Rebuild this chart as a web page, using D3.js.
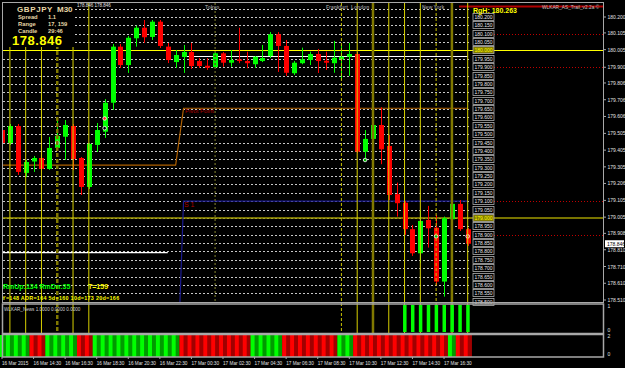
<!DOCTYPE html>
<html>
<head>
<meta charset="utf-8">
<script src="https://d3js.org/d3.v7.min.js"></script>
<style>
  body { margin: 0; background: #000; }
  svg { display: block; font-family: "Liberation Sans", Arial, sans-serif; }
</style>
</head>
<body>
<svg width="625" height="368"></svg>
<script>
// GBPJPY M30 candles, 16 Mar 12:30 -> 17 Mar 18:00
const opens = [179.525,179.448,179.549,179.269,179.337,179.358,179.293,179.418,179.485,179.549,
  179.358,179.185,179.436,179.515,179.688,180.023,179.913,180.073,180.136,180.081,
  180.172,180.023,179.931,179.961,179.991,179.937,179.909,179.900,179.983,179.927,
  179.947,179.937,179.918,179.937,179.967,180.097,180.027,179.864,179.924,179.943,
  179.979,179.939,179.924,179.947,179.963,179.979,179.396,179.472,179.555,179.430,
  179.142,179.091,178.933,178.789,178.988,178.942,178.620,178.992,179.084,178.933];
const highs = [179.543,179.561,179.561,179.346,179.370,179.478,179.484,179.603,179.585,179.561,
  179.364,179.448,179.567,179.710,180.039,180.039,180.087,180.148,180.182,180.182,
  180.182,180.045,180.003,180.033,180.045,179.955,179.955,179.991,179.991,180.003,
  180.136,179.993,179.967,180.033,180.110,180.110,180.063,179.937,180.017,179.993,
  180.009,179.993,180.057,180.033,180.045,179.991,179.525,179.575,179.661,179.496,
  179.211,179.101,178.958,179.048,179.072,179.018,179.008,179.247,179.107,178.940];
const lows = [179.424,179.436,179.257,179.245,179.275,179.275,179.287,179.406,179.346,179.287,
  179.137,179.173,179.394,179.478,179.645,179.896,179.866,180.023,180.045,180.063,
  180.015,179.925,179.896,179.866,179.890,179.896,179.884,179.896,179.903,179.903,
  179.924,179.894,179.896,179.931,179.955,179.872,179.848,179.854,179.918,179.913,
  179.866,179.884,179.867,179.824,179.848,179.388,179.358,179.376,179.321,179.107,
  179.008,178.899,178.773,178.730,178.823,178.600,178.530,178.968,178.922,178.833];
const closes = [179.448,179.549,179.275,179.334,179.358,179.293,179.418,179.490,179.555,179.352,
  179.185,179.442,179.525,179.688,180.023,179.913,180.076,180.136,180.079,180.172,
  180.027,179.943,179.973,179.991,179.907,179.907,179.897,179.983,179.927,179.943,
  179.937,179.924,179.963,179.955,180.097,180.027,179.867,179.927,179.947,179.979,
  179.937,179.927,179.957,179.963,179.979,179.396,179.472,179.555,179.410,179.137,
  179.088,178.933,178.789,178.982,178.938,178.620,178.998,179.084,178.933,178.846];

// daily pivot / S1 (step at 17 Mar 00:00)
const pivotSeries = [179.316,179.316,179.316,179.316,179.316,179.316,179.316,179.316,179.316,179.316,
  179.316,179.316,179.316,179.316,179.316,179.316,179.316,179.316,179.316,179.316,
  179.316,179.316,179.316,179.655,179.655,179.655,179.655,179.655,179.655,179.655,
  179.655,179.655,179.655,179.655,179.655,179.655,179.655,179.655,179.655,179.655,
  179.655,179.655,179.655,179.655,179.655,179.655,179.655,179.655,179.655,179.655,
  179.655,179.655,179.655,179.655,179.655,179.655,179.655,179.655,179.655,179.655];
const s1Series = [177.780,177.780,177.780,177.780,177.780,177.780,177.780,177.780,177.780,177.780,
  177.780,177.780,177.780,177.780,177.780,177.780,177.780,177.780,177.780,177.780,
  177.780,177.780,177.780,179.101,179.101,179.101,179.101,179.101,179.101,179.101,
  179.101,179.101,179.101,179.101,179.101,179.101,179.101,179.101,179.101,179.101,
  179.101,179.101,179.101,179.101,179.101,179.101,179.101,179.101,179.101,179.101,
  179.101,179.101,179.101,179.101,179.101,179.101,179.101,179.101,179.101,179.101];

// white range lines: [first bar, last bar, price]
const whiteLines = [[0, 21, 178.793], [23, 59, 179.964]];
const rangeHigh = 180.263;
const lastPrice = 178.846;

// sub window 1 (news) and sub window 2 (trend colour)
const newsSignal = [0,0,0,0,0,0,0,0,0,0, 0,0,0,0,0,0,0,0,0,0, 0,0,0,0,0,0,0,0,0,0,
  0,0,0,0,0,0,0,0,0,0, 0,0,0,0,0,0,0,0,0,0, 0,1,1,1,1,1,1,1,1,1];
const trendUp = [1,1,1,1,0,0,1,1,1,1, 0,0,1,1,1,1,1,1,1,1, 1,1,1,0,0,0,0,0,0,0,
  0,0,1,1,1,1,0,0,0,0, 0,0,0,1,1,0,0,0,0,0, 0,0,0,0,0,0,0,1,0,0];

// session lines (bar index)
const solidLineBars = [1, 3, 5, 9, 11, 45, 49, 51, 53, 59];
const oliveLineBars = [7, 47, 57];
const dashedLineBars = [43, 55];
const dottedLineBars = [27];

// price levels every 0.05 with boxed labels
const levelPrices = [180.25,180.20,180.15,180.10,180.05,180.00,179.95,179.90,179.85,179.80,179.75,179.70,
  179.65,179.60,179.55,179.50,179.45,179.40,179.35,179.30,179.25,179.20,179.15,179.10,179.05,179.00,
  178.95,178.90,178.85,178.80,178.75,178.70,178.65,178.60,178.55,178.50];
const boxedLevels = levelPrices.slice(1);
const redDottedLevels = [180.10, 179.90, 179.10, 178.90];

const priceTicks = [180.200,180.105,180.005,179.900,179.806,179.706,179.606,179.505,179.405,
  179.305,179.206,179.105,179.005,178.908,178.810,178.710,178.610,178.510];
const timeTickBars = [0,4,8,12,16,20,24,28,32,36,40,44,48,52,56];
const timeLabels = ["16 Mar 2015","16 Mar 14:30","16 Mar 16:30","16 Mar 18:30","16 Mar 20:30",
  "16 Mar 22:30","17 Mar 00:30","17 Mar 02:30","17 Mar 04:30","17 Mar 06:30","17 Mar 08:30",
  "17 Mar 10:30","17 Mar 12:30","17 Mar 14:30","17 Mar 16:30"];

// signal markers [bar, price, colour]
const markers = [[7,179.448,"#3050ff"],[13,179.536,"#000"],[13,179.594,"#ff3030"],
  [46,179.346,"#00c000"],[55,178.890,"#00c000"],[59,178.890,"#ff2020"]];

const svg = d3.select("svg");
const x = d3.scaleLinear().domain([0, 59]).range([2, 467.7]);
const y = d3.scaleLinear().domain([180.200, 178.510]).range([17, 300]);
const ySub1 = d3.scaleLinear().domain([0, 1]).range([332, 305]);
const ySub2 = d3.scaleLinear().domain([0, 2]).range([357, 335]);
const slot = x(1) - x(0);
const bull = "#00ff00", bear = "#ff0000";

svg.append("rect").attr("width", 625).attr("height", 368).attr("fill", "#000");

svg.append("clipPath").attr("id", "clipMain")
  .append("rect").attr("x", 3).attr("y", 3).attr("width", 600).attr("height", 299);
const g = svg.append("g").attr("clip-path", "url(#clipMain)");

// dotted level lines
g.selectAll(".lvl").data(levelPrices).enter().append("line")
  .attr("x1", 3).attr("x2", 470)
  .attr("y1", d => Math.round(y(d)) + 0.5).attr("y2", d => Math.round(y(d)) + 0.5)
  .attr("stroke", "#c8c8c8").attr("stroke-dasharray", "2,2");

g.selectAll(".rdl").data(redDottedLevels).enter().append("line")
  .attr("x1", 494).attr("x2", 603)
  .attr("y1", d => Math.round(y(d)) + 0.5).attr("y2", d => Math.round(y(d)) + 0.5)
  .attr("stroke", "#c00000").attr("stroke-dasharray", "1,2");

// round number lines
g.append("line").attr("x1", 3).attr("x2", 603).attr("y1", y(180.0)).attr("y2", y(180.0))
  .attr("stroke", "#ffff00").attr("stroke-width", 1.2);
g.append("line").attr("x1", 3).attr("x2", 603).attr("y1", y(179.0)).attr("y2", y(179.0))
  .attr("stroke", "#a09a00").attr("stroke-width", 1.5);

// range high
g.append("line").attr("x1", 459).attr("x2", 603).attr("y1", y(rangeHigh)).attr("y2", y(rangeHigh))
  .attr("stroke", "#b00000").attr("stroke-width", 2);

// vertical session lines (main + news window)
function vlines(bars, color, width, dash, bottom) {
  svg.selectAll(null).data(bars).enter().append("line")
    .attr("x1", d => x(d)).attr("x2", d => x(d))
    .attr("y1", 3).attr("y2", bottom)
    .attr("stroke", color).attr("stroke-width", width)
    .attr("stroke-dasharray", dash);
}
vlines(solidLineBars, "#d8d000", 1, null, 333);
vlines(oliveLineBars.slice(1), "#807800", 2.5, null, 333);
vlines(oliveLineBars.slice(0, 1), "#807800", 2.5, "4,2", 333);
vlines(dashedLineBars, "#c8c000", 1, "3,2", 333);
vlines(dottedLineBars, "#5a5a20", 1.5, "2,2", 302);

// white lines
g.selectAll(".wl").data(whiteLines).enter().append("line")
  .attr("x1", d => x(d[0])).attr("x2", d => x(d[1]))
  .attr("y1", d => y(d[2])).attr("y2", d => y(d[2]))
  .attr("stroke", "#fff").attr("stroke-width", 1.2);

// pivot and S1
const idx = d3.range(60);
g.append("path").datum(idx)
  .attr("d", d3.line().x(i => x(i)).y(i => y(pivotSeries[i])))
  .attr("fill", "none").attr("stroke", "#b06000").attr("stroke-width", 1.2);
g.append("path").datum(idx)
  .attr("d", d3.line().x(i => x(i)).y(i => y(s1Series[i])))
  .attr("fill", "none").attr("stroke", "#1a1a90").attr("stroke-width", 1.2);
g.append("text").attr("x", 185).attr("y", y(179.655) + 5).attr("fill", "#b00000")
  .attr("font-size", 6).text("Pivot Point");
g.append("text").attr("x", 184).attr("y", y(179.101) + 6).attr("fill", "#b00000")
  .attr("font-size", 7).text("S 1");

// candles
const candles = g.selectAll(".c").data(idx).enter().append("g");
candles.append("line")
  .attr("x1", i => Math.round(x(i)) + 0.5).attr("x2", i => Math.round(x(i)) + 0.5)
  .attr("y1", i => y(highs[i])).attr("y2", i => y(lows[i]))
  .attr("stroke", i => closes[i] >= opens[i] ? bull : bear);
candles.append("rect")
  .attr("x", i => Math.round(x(i)) - 2).attr("width", 5)
  .attr("y", i => y(Math.max(opens[i], closes[i])))
  .attr("height", i => Math.max(1, Math.abs(y(opens[i]) - y(closes[i]))))
  .attr("fill", i => closes[i] >= opens[i] ? bull : bear);

// markers
g.selectAll(".mk").data(markers).enter().append("circle")
  .attr("cx", d => x(d[0])).attr("cy", d => y(d[1])).attr("r", 1.8)
  .attr("fill", d => d[2]).attr("stroke", "#fff").attr("stroke-width", 0.8);

// boxed level labels
const lb = svg.selectAll(".lb").data(boxedLevels).enter().append("g")
  .attr("transform", d => `translate(473,${Math.round(y(d)) - 3.5})`);
lb.append("rect").attr("width", 21).attr("height", 7)
  .attr("fill", d => (Math.abs(d - 180) < 1e-6 || Math.abs(d - 179) < 1e-6) ? "#807800" : "#000")
  .attr("stroke", "#b0b0b0").attr("stroke-width", 0.8);
lb.append("text").attr("x", 10.5).attr("y", 5.4).attr("text-anchor", "middle")
  .attr("font-size", 5).attr("fill", d => (Math.abs(d - 180) < 1e-6 || Math.abs(d - 179) < 1e-6) ? "#ffff00" : "#e8e8e8")
  .text(d => d.toFixed(3));
svg.append("text").attr("x", 473).attr("y", 13).attr("font-size", 7).attr("font-weight", "bold")
  .attr("fill", "#ffff00").text("RgH: " + rangeHigh.toFixed(3));

// info box
svg.append("rect").attr("x", 3).attr("y", 3).attr("width", 71).attr("height", 44).attr("fill", "#000");
const beige = "#e6d6a6";
svg.append("text").attr("x", 17).attr("y", 11.5).attr("font-size", 8).attr("font-weight", "bold")
  .attr("letter-spacing", 0.6).attr("fill", beige).text("GBPJPY");
svg.append("text").attr("x", 57).attr("y", 11.5).attr("font-size", 8).attr("font-weight", "bold")
  .attr("fill", beige).text("M30");
[["Spread", "1.1", 18.5], ["Range", "17, 159", 25.5], ["Candle", "29:46", 32.5]].forEach(r => {
  svg.append("text").attr("x", 18).attr("y", r[2]).attr("font-size", 5.8).attr("font-weight", "bold")
    .attr("fill", beige).text(r[0]);
  svg.append("text").attr("x", 48).attr("y", r[2]).attr("font-size", 5.8).attr("font-weight", "bold")
    .attr("fill", beige).text(r[1]);
});
svg.append("text").attr("x", 12).attr("y", 45).attr("font-size", 13).attr("font-weight", "bold")
  .attr("letter-spacing", 0.5).attr("fill", "#ffff00").text(lastPrice.toFixed(3));
svg.append("text").attr("x", 77).attr("y", 7).attr("font-size", 4.5).attr("fill", "#e0e0e0")
  .text("178.846 178.846");

// session names
[["Tokyo", 205], ["Frankfurt", 326], ["London", 351], ["New York", 422]].forEach(s => {
  svg.append("text").attr("x", s[1]).attr("y", 9).attr("font-size", 5).attr("font-weight", "bold")
    .attr("fill", "#8a8a8a").text(s[0]);
});
svg.append("text").attr("x", 542).attr("y", 9).attr("font-size", 4.8).attr("fill", "#c0c0c0")
  .text("WLKAR_AS_Trail_v2.2a ©");

// stats text
const st = svg.append("text").attr("x", 3).attr("y", 289).attr("font-size", 7).attr("font-weight", "bold");
st.append("tspan").attr("fill", "#00ff00").text("RmUp:134  RmDn:35");
st.append("tspan").attr("x", 88).attr("fill", "#ffff00").text("T=159");
svg.append("text").attr("x", 2).attr("y", 300).attr("font-size", 5.4).attr("font-weight", "bold")
  .attr("fill", "#ffff00").attr("letter-spacing", 0.3)
  .text("Y=148  ADR=164  5d=160  10d=173  20d=166");

// sub window 1: news
svg.selectAll(".nb").data(idx.filter(i => newsSignal[i] > 0)).enter().append("rect")
  .attr("x", i => x(i) - 1.5).attr("width", 3.5)
  .attr("y", i => ySub1(newsSignal[i])).attr("height", i => ySub1(0) - ySub1(newsSignal[i]))
  .attr("fill", bull);
svg.append("text").attr("x", 4).attr("y", 311).attr("font-size", 4.6).attr("fill", "#d0d0d0")
  .text("WLKAR_News 1.0000 0.0000 0.0000");

// sub window 2: trend colour
const tb = svg.selectAll(".tb").data(idx).enter().append("g");
tb.append("rect").attr("x", i => x(i) - slot / 2).attr("width", slot + 0.3)
  .attr("y", ySub2(2)).attr("height", ySub2(0) - ySub2(2))
  .attr("fill", i => trendUp[i] ? "#009a00" : "#a00000");
tb.append("rect").attr("x", i => x(i) - slot / 2).attr("width", slot / 2)
  .attr("y", ySub2(2)).attr("height", ySub2(0) - ySub2(2))
  .attr("fill", i => trendUp[i] ? bull : bear);

// frames
const frame = "#a8a8a8";
svg.append("rect").attr("x", 2.5).attr("y", 2.5).attr("width", 601).attr("height", 300)
  .attr("fill", "none").attr("stroke", frame);
svg.append("rect").attr("x", 2.5).attr("y", 304).attr("width", 601).attr("height", 29.5)
  .attr("fill", "none").attr("stroke", frame).attr("stroke-width", 1.5);
svg.append("rect").attr("x", 2.5).attr("y", 334.5).attr("width", 601).attr("height", 22.5)
  .attr("fill", "none").attr("stroke", frame).attr("stroke-width", 1.5);

// price axis
const pa = svg.append("g").attr("transform", "translate(603,0)");
pa.selectAll(".pt").data(priceTicks).enter().append("line")
  .attr("x1", 0).attr("x2", 3).attr("y1", d => y(d)).attr("y2", d => y(d)).attr("stroke", frame);
pa.selectAll(".pl").data(priceTicks).enter().append("text")
  .attr("x", 4.5).attr("y", d => y(d) + 2).attr("font-size", 5).attr("fill", "#e0e0e0")
  .text(d => d.toFixed(3));
pa.append("rect").attr("x", 2).attr("y", y(lastPrice) - 3.5).attr("width", 19).attr("height", 7)
  .attr("fill", "#fff");
pa.append("text").attr("x", 4).attr("y", y(lastPrice) + 2).attr("font-size", 5).attr("fill", "#000")
  .text(lastPrice.toFixed(3));
[["1", ySub1(1) + 3], ["0", ySub1(0)], ["2", ySub2(2) + 3], ["0", ySub2(0) - 1]].forEach(t => {
  pa.append("text").attr("x", 4.5).attr("y", t[1]).attr("font-size", 5).attr("fill", "#e0e0e0").text(t[0]);
});

// time axis
svg.selectAll(".tl").data(timeTickBars).enter().append("text")
  .attr("x", (d, i) => i === 0 ? 2 : x(d)).attr("y", 364.5)
  .attr("font-size", 4.7).attr("fill", "#e0e0e0")
  .text((d, i) => timeLabels[i]);
svg.selectAll(".tt").data(timeTickBars).enter().append("line")
  .attr("x1", d => x(d)).attr("x2", d => x(d)).attr("y1", 357).attr("y2", 359).attr("stroke", frame);
</script>
</body>
</html>
